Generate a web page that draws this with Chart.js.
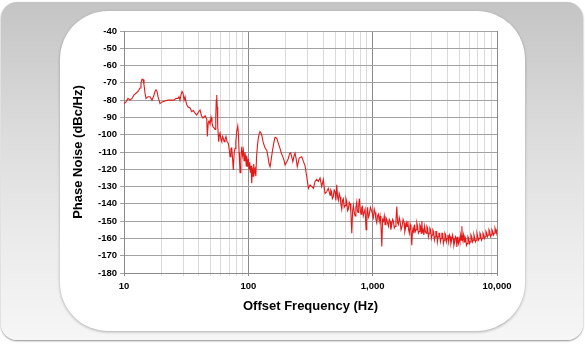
<!DOCTYPE html>
<html><head><meta charset="utf-8">
<script src="https://cdn.jsdelivr.net/npm/chart.js@4"></script>
<style>
html,body{margin:0;padding:0;background:#fff;width:585px;height:345px;overflow:hidden;}
#outer{position:absolute;left:1px;top:2px;width:582px;height:338px;border-radius:16px;background:linear-gradient(#c4c4c4 0%,#dadada 35%,#ebebeb 70%,#f6f6f6 100%);box-shadow:0 1px 2px rgba(0,0,0,0.45);}
#inner{position:absolute;left:60px;top:11px;width:465px;height:320px;border-radius:48px;background:#fff;box-shadow:0 1px 3px rgba(0,0,0,0.3);}
canvas{position:absolute;left:0;top:0;}
</style></head>
<body>
<div id="outer"></div><div id="inner"></div>
<canvas id="c" width="585" height="345"></canvas>
<script>
// Offset frequency (Hz)
const freqHz = [
 10.0,10.38,10.77,11.18,11.6,12.04,12.49,12.96,13.45,13.7,
 13.96,14.22,14.48,14.76,15.03,15.6,16.19,16.8,17.43,17.76,
 18.09,18.43,18.77,19.48,20.22,21.37,22.59,23.88,25.25,26.2,
 27.19,27.7,28.22,28.75,29.29,29.84,30.4,30.96,31.54,32.13,
 32.74,34.0,35.05,36.1,37.26,38.45,39.6,40.88,42.0,43.2,
 44.9,46.3,46.8,47.6,48.3,49.2,50.1,51.0,52.0,53.0,
 54.0,54.7,55.2,55.7,56.2,56.7,57.8,58.5,59.2,60.3,
 61.1,62.0,62.9,63.9,64.9,66.1,67.4,69.1,70.3,71.3,
 72.4,73.5,74.7,75.7,77.0,78.2,79.3,80.7,82.2,83.3,
 84.2,85.0,85.8,87.1,88.5,89.9,91.2,92.4,93.8,95.1,
 96.2,97.1,98.5,100,101.3,102.6,103.8,105.1,106.5,107.6,
 109.1,110.4,111.8,113.2,114.9,116.4,118.4,120.3,122.3,124.2,
 126.5,128.9,131.3,133.8,137.0,140.6,144,147,149.5,153,
 156.5,161,164,169,174.5,180,185,189,194,197.4,
 203,210,214.5,219,223.5,228,233.5,237.5,242.5,247.5,
 252,256.5,263,269,277.5,286,295,300,304.5,314,
 324,334,344,355,366,377.5,389,401,414,427,
 440,454,460,467,474,482,490,498,506,514,
 522,530,538,547,555,564,572,581,590,600,
 610,619,628,638,648,658,668,679,690,700,
 711,722,733,745,754,763,772,782,794,806,
 816,826,840,853,869,885,897,910,922,935,
 959,984,1013,1029,1045,1062,1079,1095,1112,1130,
 1147,1165,1184,1202,1221,1240,1258,1278,1298,1318,
 1339,1360,1380,1402,1424,1446,1469,1492,1515,1540,
 1563,1587,1611,1636,1661,1692,1724,1756,1789,1814,
 1839,1865,1891,1918,1945,1972,2000,2032,2064,2089,
 2114,2144,2174,2204,2235,2266,2298,2330,2363,2396,
 2430,2457,2485,2515,2545,2581,2617,2654,2691,2729,
 2767,2806,2845,2885,2925,2966,3008,3050,3093,3136,
 3180,3225,3270,3316,3362,3409,3457,3505,3554,3604,
 3655,3706,3758,3811,3864,3918,3973,4028,4085,4142,
 4200,4259,4319,4380,4441,4503,4566,4630,4695,4756,
 4791,4828,4895,4964,5034,5104,5160,5219,5258,5297,
 5371,5447,5523,5600,5679,5758,5839,5921,6004,6088,
 6173,6260,6347,6436,6527,6618,6710,6804,6899,6996,
 7094,7194,7295,7397,7500,7605,7712,7820,7930,8041,
 8153,8267,8383,8501,8620,8740,8863,8987,9113,9241,
 9370,9501,9635,9770,9885,10000
];
// Phase noise (dBc/Hz)
const phaseNoiseDb = [
 -82,-81,-79,-80,-79,-77,-76,-75,-73,-70,
 -68,-68,-71,-76,-79,-78,-78,-80,-77,-75,
 -74,-75,-78,-82,-81,-80.5,-80,-80,-80,-79,
 -79,-78,-80,-77,-75,-76,-80,-78,-81,-83,
 -84,-84.5,-86.7,-86,-87.5,-88.6,-87,-85.7,-89,-90.4,
 -89,-91,-101,-93,-92,-94,-90,-93,-95.5,-96,
 -97,-90,-80,-77,-84,-95,-104,-100,-99,-103,
 -104,-101,-102,-104,-103,-101,-104,-105,-109,-112.7,
 -108,-107.7,-114,-120.4,-110,-108,-104,-98,-95,-100,
 -110,-116,-122,-114,-107,-112,-109,-115,-110,-113,
 -118,-112,-118.5,-114,-120,-116,-122,-118,-128,-119,
 -124,-117,-122,-120,-124,-113,-106,-102,-99.5,-98.2,
 -99,-101,-104,-106,-108,-109,-113,-117,-118.5,-114,
 -109,-104,-101.5,-102,-105,-108,-111,-112.7,-115,-117.5,
 -116,-113.6,-111,-110.4,-113,-115.6,-112,-110.7,-114,-118.5,
 -116,-113.6,-113,-112.7,-115.6,-118,-124.3,-128,-131,-129,
 -130,-131,-127,-125.8,-127,-125,-130,-126,-134,-133,
 -131,-135,-132,-133,-137,-136,-132,-133,-138,-129,
 -136,-138,-134,-136,-140,-143,-138,-137,-142,-141,
 -137,-139,-144,-143,-139,-140,-145,-157,-144,-141,
 -145,-147,-142,-139,-144,-145,-141,-137,-143,-146,
 -142,-141.5,-147,-145,-143,-155,-146,-142,-148,-147,
 -142,-144.5,-148,-143,-145,-149,-151,-147,-146,-150,
 -147,-152,-164.7,-149,-150,-147,-152,-148,-149,-151,
 -153,-149,-150,-155,-152,-149,-150,-154,-153,-149,
 -141.5,-151,-152,-148,-150,-155,-153,-149,-151,-156,
 -154,-151,-153,-150,-155,-157,-152,-155,-164,-156,
 -154,-157,-152,-156,-155,-151,-153,-157,-156,-152,
 -153,-157,-150,-156,-155,-158,-153,-156,-157,-153,
 -154,-159,-157,-154,-155,-160,-158,-155,-156,-161,
 -159,-156,-156,-162,-159,-157,-157,-162,-160,-157,
 -157,-163,-161,-157,-158,-162,-160,-158,-162,-158,
 -159,-163,-161,-158,-160,-164,-162,-159,-160,-165,
 -159,-161,-163,-160,-162,-158,-161,-153,-160,-161,
 -158,-162,-159,-160,-164,-163,-159,-160,-163,-162,
 -158,-159,-162,-161,-158,-160,-162,-161,-157,-159,
 -161,-160,-157,-158,-161,-160,-157,-158,-160,-159,
 -156,-157,-159,-158,-155,-156,-159,-158,-155,-156,
 -158,-157,-154,-155.5,-157,-154.5
];
// Axis settings
const xGridFreqs = [10,20,30,40,50,60,70,80,90,100,200,300,400,500,600,700,800,900,1000,2000,3000,4000,5000,6000,7000,8000,9000,10000];
const xLabelValues = [10,100,1000,10000];
const xLabelTexts = ['10','100','1,000','10,000'];
const yMin = -180, yMax = -40, yStep = 10;
const xTitle = 'Offset Frequency (Hz)';
const yTitle = 'Phase Noise (dBc/Hz)';

const tickFont = {family:"'Liberation Sans', Arial, sans-serif", size:9.5, weight:'bold'};
const titleFont = {family:"'Liberation Sans', Arial, sans-serif", size:13, weight:'bold'};

new Chart(document.getElementById('c').getContext('2d'), {
  type:'line',
  data:{datasets:[{
    data: freqHz.map((f,i)=>({x:f, y:phaseNoiseDb[i]})),
    borderColor:'#e31a1a', borderWidth:1.1, pointRadius:0, tension:0, fill:false
  }]},
  options:{
    responsive:false, animation:false, devicePixelRatio:1,
    layout:{padding:{left:60, top:31, right:88, bottom:0}},
    plugins:{legend:{display:false}, tooltip:{enabled:false}},
    scales:{
      x:{
        type:'logarithmic', min:10, max:10000,
        afterBuildTicks:s=>{ s.ticks = xGridFreqs.map(v=>({value:v})); },
        afterFit:s=>{ s.height = 72; },
        ticks:{autoSkip:false, maxRotation:0, minRotation:0, padding:5, color:'#000', font:tickFont,
          callback:(v)=>{ const k = xLabelValues.indexOf(v); return k>=0 ? xLabelTexts[k] : ''; }},
        grid:{color:c=> (c.tick && xLabelValues.includes(c.tick.value)) ? '#8a8a8a' : '#dadada', tickLength:3, lineWidth:1},
        border:{color:'#8a8a8a'},
        title:{display:true, text:xTitle, color:'#000', font:titleFont, padding:{top:0,bottom:31}}
      },
      y:{
        min:yMin, max:yMax,
        afterFit:s=>{ s.width = 64; },
        ticks:{stepSize:yStep, padding:3, color:'#000', font:tickFont},
        grid:{color:'#a2a2a2', tickLength:4, lineWidth:1},
        border:{color:'#8a8a8a'},
        title:{display:true, text:yTitle, color:'#000', font:titleFont, padding:{top:11,bottom:0}}
      }
    }
  }
});
</script>
</body></html>
